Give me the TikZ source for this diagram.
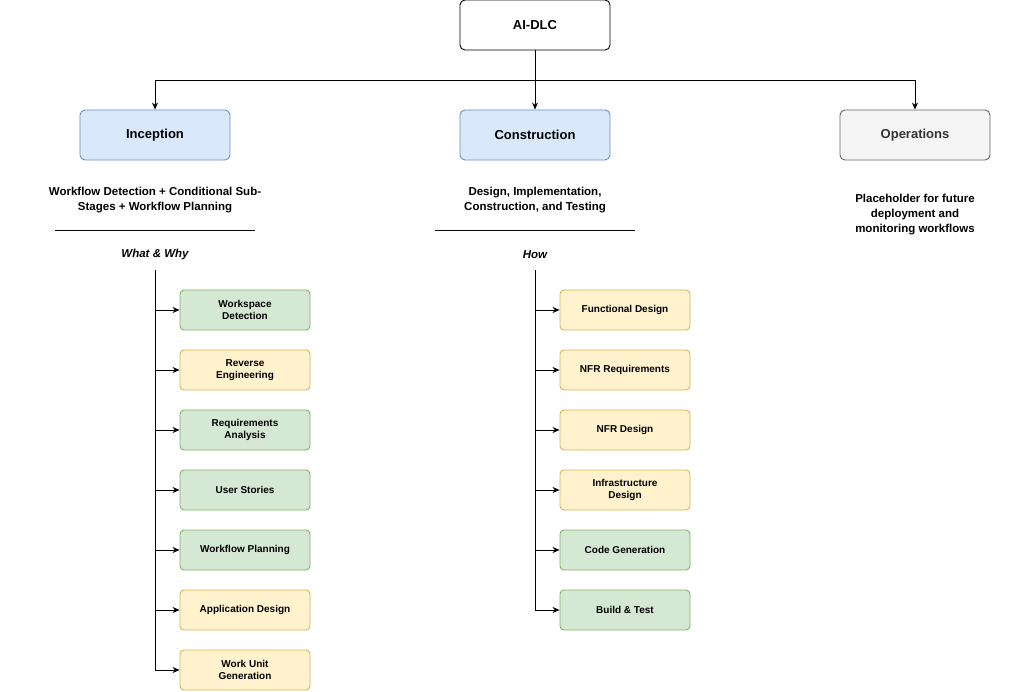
\documentclass[tikz,border=0pt]{standalone}
\usepackage{fontspec}
\setmainfont{Liberation Sans}
\usetikzlibrary{arrows.meta}
\definecolor{blueF}{HTML}{DAE8FC}\definecolor{blueD}{HTML}{6C8EBF}
\definecolor{greenF}{HTML}{D5E8D4}\definecolor{greenD}{HTML}{82B366}
\definecolor{yellowF}{HTML}{FFF2CC}\definecolor{yellowD}{HTML}{D6B656}
\definecolor{greyF}{HTML}{F5F5F5}\definecolor{greyD}{HTML}{666666}\definecolor{greyT}{HTML}{333333}
\tikzset{every picture/.style={line width=0.9pt}}
\tikzset{
  phase/.style={draw, rounded corners=5pt, minimum width=150pt, minimum height=50pt, font=\fontsize{13}{15}\selectfont\bfseries},
  stage/.style={draw, rounded corners=4pt, minimum width=130pt, minimum height=40pt, align=center, font=\fontsize{10}{12}\selectfont\bfseries},
  green/.style={stage, fill=greenF, draw=greenD},
  yellow/.style={stage, fill=yellowF, draw=yellowD},
  desc/.style={align=center, font=\fontsize{11.5}{15}\selectfont\bfseries},
  arr/.style={-{Stealth[length=7pt,width=6pt]}}
}
\begin{document}
\begin{tikzpicture}[x=1pt,y=1pt,yscale=-1]
\useasboundingbox (0,0) rectangle (1020,692);
% phases
\node[phase, draw=black] (aidlc) at (535,25) {AI-DLC};
\node[phase, fill=blueF, draw=blueD] (incep) at (155,135) {Inception};
\node[phase, fill=blueF, draw=blueD] (constr) at (535,135) {Construction};
\node[phase, fill=greyF, draw=greyD, text=greyT] (ops) at (915,135) {Operations};
\coordinate (split) at (535,80);
\draw (aidlc.south) -- (split);
\draw[arr] (split) -| (incep.north);
\draw[arr] (split) -- (constr.north);
\draw[arr] (split) -| (ops.north);
% descriptions
\node[desc] (incepd) at (155,200) {Workflow Detection + Conditional Sub-\\Stages + Workflow Planning};
\node[desc] (constrd) at (535,200) {Design, Implementation,\\Construction, and Testing};
\node[desc] (opsd) at (915,215) {Placeholder for future\\deployment and\\monitoring workflows};
\draw (55,230) -- (255,230);
\draw (435,230) -- (635,230);
\node[desc, font=\fontsize{11.5}{15}\selectfont\bfseries\itshape] (what) at (155,255) {What \& Why};
\node[desc, font=\fontsize{11.5}{15}\selectfont\bfseries\itshape] (how) at (535,255) {How};
% inception stages
\foreach \name/\sty/\txt [count=\i] in {
  ws/green/{Workspace\\Detection}, re/yellow/{Reverse\\Engineering},
  ra/green/{Requirements\\Analysis}, us/green/{User Stories},
  wp/green/{Workflow Planning}, ad/yellow/{Application Design},
  wu/yellow/{Work Unit\\Generation}}{
  \node[\sty] (\name) at (245,250+60*\i) {\txt};
  \coordinate (i\i) at (155,250+60*\i);
  \draw[arr] (i\i) -- (\name.west);
}
\draw (155,270) -- (i7);
% construction stages
\foreach \name/\sty/\txt [count=\i] in {
  fd/yellow/{Functional Design}, nr/yellow/{NFR Requirements},
  nd/yellow/{NFR Design}, id/yellow/{Infrastructure\\Design},
  cg/green/{Code Generation}, bt/green/{Build \& Test}}{
  \node[\sty] (\name) at (625,250+60*\i) {\txt};
  \coordinate (c\i) at (535,250+60*\i);
  \draw[arr] (c\i) -- (\name.west);
}
\draw (535,270) -- (c6);
\end{tikzpicture}
\end{document}
